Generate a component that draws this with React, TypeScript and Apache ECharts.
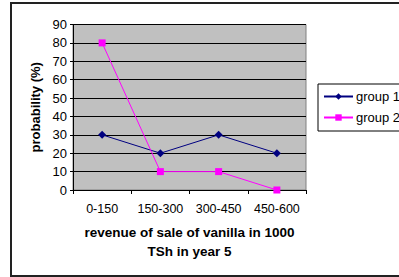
import React, { useEffect, useRef } from "react";
import * as echarts from "echarts";

const categories = ["0-150", "150-300", "300-450", "450-600"];
const group1 = [30, 20, 30, 20];
const group2 = [80, 10, 10, 0];
const seriesNames = ["group 1", "group 2"];
const yTicks = { min: 0, max: 90, interval: 10 };
const xTitle = "revenue of sale of vanilla in 1000\nTSh in year 5";
const yTitle = "probability (%)";

const FONT = "'Liberation Sans', Arial, sans-serif";

export default function App() {
  const ref = useRef<HTMLDivElement>(null);
  useEffect(() => {
    if (!ref.current) return;
    const chart = echarts.init(ref.current, null, { renderer: "svg" });
    chart.setOption({
      animation: false,
      backgroundColor: "#ffffff",
      textStyle: { fontFamily: FONT },
      graphic: [
        {
          type: "rect",
          shape: { x: 11, y: 3, width: 420, height: 273 },
          style: { fill: "none", stroke: "#222", lineWidth: 2 },
          silent: true,
          z: 100,
        },
      ],
      grid: {
        left: 73,
        top: 24.5,
        right: 93,
        bottom: 87,
        show: true,
        backgroundColor: "#C0C0C0",
        borderColor: "#808080",
        borderWidth: 1,
      },
      legend: {
        orient: "vertical",
        left: 318,
        top: 84,
        backgroundColor: "#fff",
        borderColor: "#000",
        borderWidth: 1,
        padding: [6, 6, 7, 5],
        itemGap: 8,
        itemWidth: 29,
        itemHeight: 8,
        textStyle: { fontFamily: FONT, fontSize: 13, color: "#000", padding: [0, 0, 0, -2] },
        data: seriesNames,
      },
      xAxis: {
        type: "category",
        data: categories,
        boundaryGap: true,
        axisLine: { show: true, lineStyle: { color: "#000", width: 1 } },
        axisTick: { show: true, length: 4, lineStyle: { color: "#000" } },
        axisLabel: { fontFamily: FONT, fontSize: 12.5, color: "#000", margin: 12, interval: 0, hideOverlap: false },
        name: xTitle,
        nameLocation: "middle",
        nameGap: 33,
        nameTextStyle: {
          fontFamily: FONT,
          fontSize: 13.5,
          fontWeight: "bold",
          color: "#000",
          lineHeight: 19,
          verticalAlign: "top",
        },
      },
      yAxis: {
        type: "value",
        min: yTicks.min,
        max: yTicks.max,
        interval: yTicks.interval,
        axisLine: { show: true, lineStyle: { color: "#000", width: 1 } },
        axisTick: { show: true, length: 3, lineStyle: { color: "#000" } },
        axisLabel: { fontFamily: FONT, fontSize: 13, color: "#000", margin: 6 },
        splitLine: { show: true, lineStyle: { color: "#000", width: 1 } },
        name: yTitle,
        nameLocation: "middle",
        nameGap: 31,
        nameTextStyle: { fontFamily: FONT, fontSize: 13, fontWeight: "bold", color: "#000" },
      },
      series: [
        {
          name: seriesNames[0],
          type: "line",
          data: group1,
          color: "#000080",
          symbol: "diamond",
          symbolSize: 8,
          lineStyle: { width: 1, color: "#000080" },
          itemStyle: { color: "#000080" },
        },
        {
          name: seriesNames[1],
          type: "line",
          data: group2,
          color: "#FF00FF",
          symbol: "rect",
          symbolSize: 7,
          lineStyle: { width: 1, color: "#FF00FF" },
          itemStyle: { color: "#FF00FF" },
        },
      ],
    });
    return () => chart.dispose();
  }, []);
  return (
    <div
      ref={ref}
      style={{ position: "fixed", left: 0, top: 0, width: 399, height: 277 }}
    />
  );
}
